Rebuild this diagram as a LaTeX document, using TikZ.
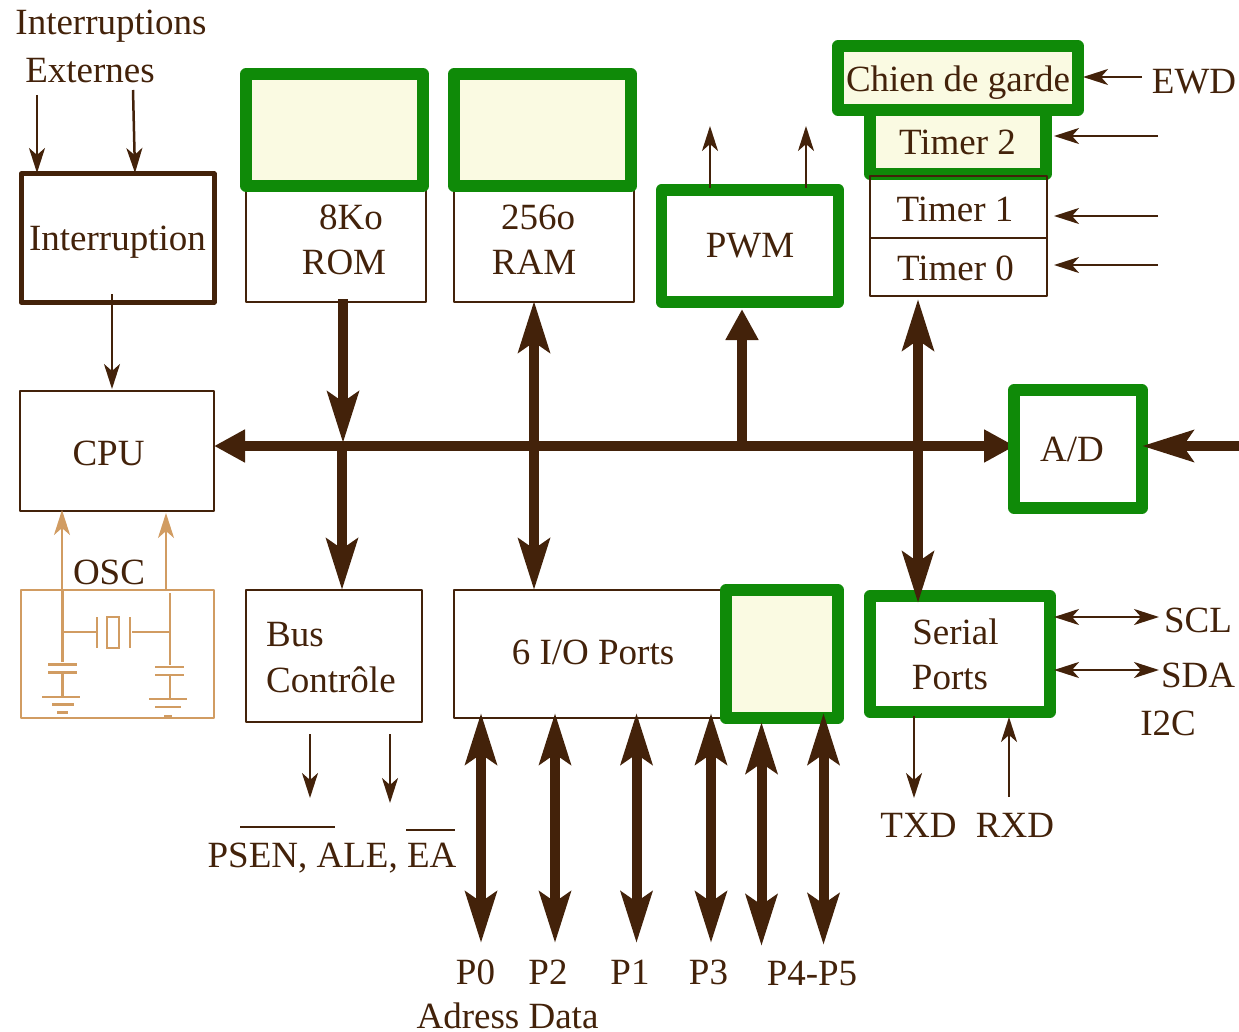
\documentclass[tikz,border=0pt]{standalone}
\usepackage{fontspec}
\setmainfont{Liberation Serif}
\usetikzlibrary{arrows.meta}
\definecolor{brun}{HTML}{43220A}
\definecolor{vert}{HTML}{0F8A08}
\definecolor{creme}{HTML}{FAFAE2}
\definecolor{ocre}{HTML}{D19C62}
\tikzset{
  thinbox/.style={draw=brun,line width=2.5pt,inner sep=0pt,outer sep=0pt,line join=round},
  darkbox/.style={thinbox,line width=5pt},
  greenbox/.style={draw=vert,line width=11.5pt,inner sep=0pt,outer sep=0pt,line join=round},
  oscbox/.style={thinbox,draw=ocre},
  txt/.style={text=brun,inner sep=0pt,anchor=base,font=\fontsize{37}{44}\selectfont},
  lefttxt/.style={txt,anchor=base west},
  thinarrow/.style={draw=brun,line width=2.5pt,-{Stealth[length=25pt,width=16pt,inset=7pt]}},
  thinboth/.style={draw=brun,line width=2.5pt,{Stealth[length=25pt,width=16pt,inset=7pt]}-{Stealth[length=25pt,width=16pt,inset=7pt]}},
  oscarrow/.style={thinarrow,draw=ocre},
  bigarrow/.style={draw=brun,line width=10pt,-{Stealth[length=51pt,width=31pt,inset=10pt]}},
  bigboth/.style={draw=brun,line width=10pt,{Stealth[length=51pt,width=31pt,inset=10pt]}-{Stealth[length=51pt,width=31pt,inset=10pt]}},
  shortarrow/.style={draw=brun,line width=10pt,-{Stealth[length=31pt,width=31pt,inset=0pt]}},
  shortboth/.style={draw=brun,line width=10pt,{Stealth[length=31pt,width=31pt,inset=0pt]}-{Stealth[length=31pt,width=31pt,inset=0pt]}}
}
\begin{document}
\begin{tikzpicture}[x=1pt,y=-1pt]
\useasboundingbox (0,0) rectangle (1239,1032);
% main bus, under the boxes
\coordinate (busl) at (214,446);
\coordinate (busr) at (1015,446);
\draw[shortboth] (busl)--(busr);
% boxes
\node[darkbox,minimum width=193pt,minimum height=128pt] (inter) at (117.5,238) {};
\node[thinbox,minimum width=180pt,minimum height=120pt] (rom) at (336,242) {};
\node[thinbox,minimum width=180pt,minimum height=120pt] (ram) at (544,242) {};
\node[greenbox,fill=creme,minimum width=177pt,minimum height=112pt] (romtop) at (334.5,130) {};
\node[greenbox,fill=creme,minimum width=177pt,minimum height=112pt] (ramtop) at (542.5,130) {};
\node[greenbox,minimum width=177pt,minimum height=112pt] (pwm) at (750,246) {};
\node[greenbox,fill=creme,minimum width=176pt,minimum height=64pt] (timerb) at (958,142) {};
\node[greenbox,fill=creme,minimum width=240pt,minimum height=64pt] (chien) at (958,78) {};
\node[thinbox,minimum width=177pt,minimum height=62pt] (timera) at (958.5,207) {};
\node[thinbox,minimum width=177pt,minimum height=58pt] (timerz) at (958.5,267) {};
\node[thinbox,minimum width=194pt,minimum height=120pt] (cpu) at (117,451) {};
\node[greenbox,minimum width=128pt,minimum height=118pt] (ad) at (1078,449) {};
\node[oscbox,minimum width=193pt,minimum height=128pt] (osc) at (117.5,654) {};
\node[thinbox,minimum width=176pt,minimum height=132pt] (bus) at (334,656) {};
\node[thinbox,minimum width=272pt,minimum height=128pt] (ports) at (590,654) {};
\node[greenbox,fill=creme,minimum width=112pt,minimum height=128pt] (portsx) at (782,654) {};
\node[greenbox,minimum width=180pt,minimum height=116pt] (serial) at (960,654) {};
% texts
\node[txt] (t1) at (111,35) {Interruptions};
\node[txt] (t2) at (90,83) {Externes};
\node[txt] (t3) at (117.5,251) {Interruption};
\node[txt] (t4) at (351,230) {8Ko};
\node[txt] (t5) at (344,275) {ROM};
\node[txt] (t6) at (538,230) {256o};
\node[txt] (t7) at (534,275) {RAM};
\node[txt] (t8) at (750,258) {PWM};
\node[txt] (t9) at (958,92) {Chien de garde};
\node[txt] (t10) at (957.5,155) {Timer 2};
\node[txt] (t11) at (955,222) {Timer 1};
\node[txt] (t12) at (955.5,280) {Timer 0};
\node[txt] (t13) at (1194,94) {EWD};
\node[txt] (t14) at (108.5,465) {CPU};
\node[txt] (t15) at (1072,461) {A/D};
\node[txt] (t16) at (109,584) {OSC};
\node[lefttxt] (t17) at (266,646) {Bus};
\node[lefttxt] (t18) at (266,692) {Contrôle};
\node[txt] (t19) at (593,664) {6 I/O Ports};
\node[txt] (t20) at (955.5,644) {Serial};
\node[txt] (t21) at (950,689) {Ports};
\node[txt] (t22) at (1198,632) {SCL};
\node[txt] (t23) at (1198,687) {SDA};
\node[txt] (t24) at (1168,735) {I2C};
\node[txt] (t25) at (918.5,837) {TXD};
\node[txt] (t26) at (1015,837) {RXD};
\node[txt] (t27) at (332,867) {PSEN, ALE, EA};
\node[txt] (t28) at (475.5,984) {P0};
\node[txt] (t29) at (548,984) {P2};
\node[txt] (t30) at (630,984) {P1};
\node[txt] (t31) at (708.5,984) {P3};
\node[txt] (t32) at (812,985) {P4-P5};
\node[txt] (t33) at (507.5,1028) {Adress Data};
\draw[brun,line width=2.5pt]
(240,827)--(335,827)
(406,830)--(455,830)
;
% free ends
\coordinate (romin) at (343,299);
\coordinate (romout) at (343,443);
\coordinate (busin) at (342,446);
\coordinate (busout) at (342,590);
\coordinate (ramup) at (534,301);
\coordinate (ramdn) at (534,590);
\coordinate (pwmin) at (742,446);
\coordinate (pwmout) at (742,309);
\coordinate (tmup) at (918,299);
\coordinate (tmdn) at (918,603);
\coordinate (adin) at (1239,446);
\coordinate (adout) at (1142,446);
% thick arrows
\draw[bigarrow] (romin)--(romout);
\draw[bigarrow] (busin)--(busout);
\draw[bigboth] (ramup)--(ramdn);
\draw[shortarrow] (pwmin)--(pwmout);
\draw[bigboth] (tmup)--(tmdn);
\draw[bigarrow] (adin)--(adout);
\foreach \i/\x/\a/\b in {a/481/713/943,b/555/713/943,c/636.5/713/943,d/711/713/943,e/761.5/722/946,f/823.5/713/945}{
  \coordinate (pt\i) at (\x,\a);
  \coordinate (pb\i) at (\x,\b);
  \draw[bigboth] (pt\i)--(pb\i);
}
% thin arrows
\foreach \n/\xa/\ya/\xb/\yb in {ia/37/95/37/173,ib/133/90/135/173,ic/112/294/112/389,
  pa/710/188/710/126,pb/806/188/806/126,
  ew/1142/77/1083/77,tb/1158/136/1054/136,ta/1158/216/1054/216,tz/1158/265/1054/265,
  tx/914/716/914/798,rx/1009/797/1009/717,ba/310/734/310/798,bb/390/734/390/803}{
  \coordinate (\n s) at (\xa,\ya);
  \coordinate (\n e) at (\xb,\yb);
  \draw[thinarrow] (\n s)--(\n e);
}
\coordinate (scla) at (1054,617);
\coordinate (sclb) at (1159,617);
\coordinate (sdaa) at (1054,670);
\coordinate (sdab) at (1159,670);
\draw[thinboth] (scla)--(sclb);
\draw[thinboth] (sdaa)--(sdab);
% oscillator
\coordinate (osca) at (62,590);
\coordinate (oscb) at (62,510);
\coordinate (oscc) at (166,590);
\coordinate (oscd) at (166,513);
\draw[oscarrow] (osca)--(oscb);
\draw[oscarrow] (oscc)--(oscd);
\draw[ocre,line width=2.5pt]
(62.5,590)--(62.5,662)
(170,593)--(170,665)
(62.5,632)--(97,632)
(97,617)--(97,648)
(107,617) rectangle (119,648)
(130,617)--(130,648)
(132,632)--(170,632)
(48,664.5)--(77,664.5)
(48,672.5)--(77,672.5)
(62.5,672.5)--(62.5,697)
(42,697)--(80,697)
(52,704.5)--(74,704.5)
(57,712.5)--(68,712.5)
(155,667)--(184,667)
(155,675)--(184,675)
(170,675)--(170,699)
(149,699)--(187,699)
(155,707)--(181,707)
(164,716)--(172,716)
;
\end{tikzpicture}
\end{document}
